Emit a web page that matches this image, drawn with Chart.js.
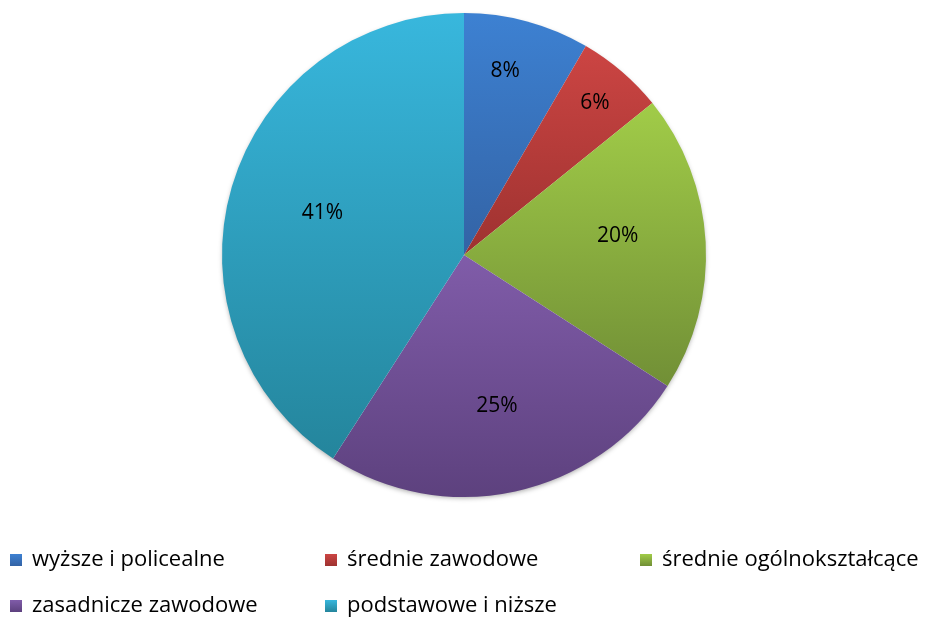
<!DOCTYPE html>
<html>
<head>
<meta charset="utf-8">
<script src="https://cdn.jsdelivr.net/npm/chart.js@4.4.1/dist/chart.umd.min.js"></script>
<style>
  html,body{margin:0;padding:0;background:#fff;}
  #wrap{width:931px;height:617px;position:relative;}
</style>
</head>
<body>
<div id="wrap"><canvas id="c" width="931" height="617"></canvas></div>
<script>
// data
const categories = ["wyższe i policealne", "średnie zawodowe", "średnie ogólnokształcące", "zasadnicze zawodowe", "podstawowe i niższe"];
const shares = [8.4, 5.8, 19.9, 25.0, 40.9];
const shareLabels = ["8%", "6%", "20%", "25%", "41%"];

// office-like colours, light (top) and dark (bottom) of each slice
const lightCols = ["#3D81D2", "#CC4543", "#A1CC48", "#805CA9", "#38B7DD"];
const darkCols  = ["#3363A5", "#9E3230", "#718F36", "#5D417E", "#24859C"];
// label placement: fraction of radius and small turn (deg) off the slice middle
const labelRad  = [0.78, 0.83, 0.64, 0.64, 0.61];
const labelTurn = [-2.5, 0, -4, 0, 0];
const FONT = "'Open Sans', sans-serif";

// per-slice vertical gradient over the slice's own bounding box
const sliceGradients = {
  id: "sliceGradients",
  beforeDatasetsDraw(chart){
    const ctx = chart.ctx;
    const meta = chart.getDatasetMeta(0);
    meta.data.forEach((arc, i) => {
      let top = arc.y, bot = arc.y;
      for(let k=0;k<=60;k++){
        const a = arc.startAngle + (arc.endAngle-arc.startAngle)*k/60;
        const y = arc.y + Math.sin(a)*arc.outerRadius;
        top = Math.min(top, y); bot = Math.max(bot, y);
      }
      const g = ctx.createLinearGradient(0, top, 0, bot);
      g.addColorStop(0, lightCols[i]);
      g.addColorStop(1, darkCols[i]);
      arc.options.backgroundColor = g;
    });
    // soft shadow under the pie
    const a0 = meta.data[0];
    ctx.save();
    ctx.beginPath();
    ctx.arc(a0.x, a0.y, a0.outerRadius-1, 0, Math.PI*2);
    ctx.fillStyle = "#fff";
    ctx.shadowColor = "rgba(0,0,0,0.35)";
    ctx.shadowBlur = 5;
    ctx.shadowOffsetY = 2;
    ctx.fill();
    ctx.restore();
  },
  afterDatasetsDraw(chart){
    const ctx = chart.ctx;
    const meta = chart.getDatasetMeta(0);
    ctx.save();
    ctx.fillStyle = "#000";
    ctx.font = "21px " + FONT;
    ctx.textAlign = "center";
    ctx.textBaseline = "middle";
    meta.data.forEach((arc, i) => {
      const mid = (arc.startAngle + arc.endAngle)/2 + labelTurn[i]*Math.PI/180;
      const r = arc.outerRadius * labelRad[i];
      ctx.fillText(shareLabels[i], arc.x + Math.cos(mid)*r, arc.y + Math.sin(mid)*r);
    });
    ctx.restore();
  }
};

// legend laid out in a fixed grid like the original
const gridLegend = {
  id: "gridLegend",
  afterDraw(chart){
    const ctx = chart.ctx;
    const colX = [10, 325, 640];
    const rowY = [560, 606];
    ctx.save();
    ctx.font = "22px " + FONT;
    ctx.textBaseline = "middle";
    categories.forEach((name, i) => {
      const x = colX[i % 3], y = rowY[Math.floor(i/3)];
      const g = ctx.createLinearGradient(0, y-6, 0, y+6);
      g.addColorStop(0, lightCols[i]);
      g.addColorStop(1, darkCols[i]);
      ctx.fillStyle = g;
      ctx.fillRect(x, y-6, 12, 12);
      ctx.fillStyle = "#000";
      ctx.fillText(name, x + 22, y);
    });
    ctx.restore();
  }
};

new Chart(document.getElementById("c"), {
  type: "pie",
  data: {
    labels: categories,
    datasets: [{
      data: shares,
      backgroundColor: lightCols,
      borderWidth: 0
    }]
  },
  options: {
    responsive: false,
    animation: false,
    layout: { padding: { top: 13, bottom: 120, left: 0, right: 3 } },
    plugins: {
      legend: { display: false },
      tooltip: { enabled: false }
    }
  },
  plugins: [sliceGradients, gridLegend]
});
</script>
</body>
</html>
